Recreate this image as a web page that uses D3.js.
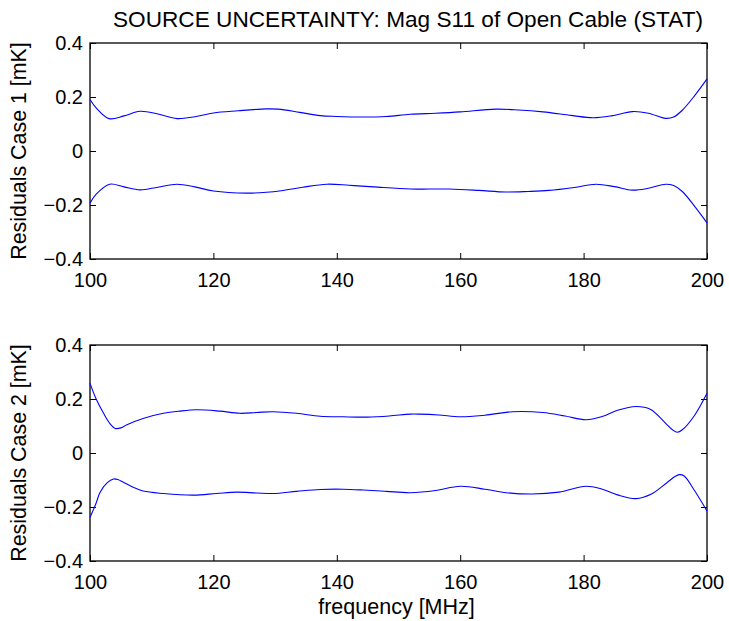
<!DOCTYPE html>
<html><head><meta charset="utf-8">
<script src="https://cdn.jsdelivr.net/npm/d3@7"></script>
<style>body{margin:0;background:#fff}svg{display:block}text{font-family:"Liberation Sans",Arial,Helvetica,sans-serif;fill:#000}</style>
</head><body>
<svg id="c" width="729" height="621"></svg>
<script>
const title = "SOURCE UNCERTAINTY: Mag S11 of Open Cable (STAT)";
const xLabel = "frequency [MHz]";
const yLabels = ["Residuals Case 1 [mK]", "Residuals Case 2 [mK]"];
const xTicks = [100, 120, 140, 160, 180, 200];
const yTicks = [-0.4, -0.2, 0, 0.2, 0.4];

// Case 1
const case1Freq  = [100, 101, 103.1, 105.5, 108.1, 111, 114.1, 117, 120, 124, 128.6, 130.5, 134, 137.3, 140, 144.3, 148, 151.9, 156, 160, 165.8, 169.5, 173.4, 178, 181.5, 184.5, 187.9, 190.5, 193.3, 194.6, 196, 198, 200];
const case1Upper = [0.191, 0.160, 0.120, 0.130, 0.147, 0.137, 0.120, 0.127, 0.141, 0.149, 0.156, 0.155, 0.143, 0.131, 0.128, 0.126, 0.128, 0.136, 0.140, 0.145, 0.155, 0.152, 0.145, 0.132, 0.123, 0.130, 0.146, 0.140, 0.121, 0.126, 0.151, 0.205, 0.267];
const case1FreqL = [100, 101, 103.2, 105.5, 108.1, 111, 114.1, 117, 120, 125.4, 128.6, 131, 134.5, 138.4, 142, 146, 151.9, 155, 158.3, 163, 167.4, 171, 174.4, 178.5, 182, 185, 187.9, 190.5, 193.3, 194.6, 196, 198, 200];
const case1Lower = [-0.193, -0.160, -0.123, -0.133, -0.144, -0.134, -0.123, -0.133, -0.148, -0.156, -0.153, -0.147, -0.134, -0.123, -0.127, -0.133, -0.141, -0.141, -0.141, -0.146, -0.152, -0.150, -0.146, -0.135, -0.123, -0.132, -0.145, -0.138, -0.123, -0.128, -0.150, -0.205, -0.266];

// Case 2
const case2Freq  = [100, 101, 102.2, 103.2, 104.1, 105, 105.9, 108.6, 111.9, 114.5, 117.3, 121, 124.3, 127, 129.7, 133.5, 137.3, 141, 144.9, 148.5, 151.9, 153.4, 156.5, 160, 164, 168.5, 173.4, 177, 180.4, 183, 185.5, 188.5, 190.8, 193.3, 194.4, 195.2, 196, 198, 200];
const case2Upper = [0.258, 0.200, 0.147, 0.110, 0.091, 0.093, 0.104, 0.128, 0.147, 0.155, 0.160, 0.155, 0.147, 0.150, 0.153, 0.147, 0.136, 0.134, 0.133, 0.137, 0.144, 0.144, 0.141, 0.134, 0.140, 0.153, 0.150, 0.137, 0.123, 0.135, 0.158, 0.172, 0.162, 0.110, 0.086, 0.077, 0.086, 0.140, 0.221];
const case2FreqL = [100, 101, 101.6, 102.8, 103.8, 104.5, 105.4, 107, 108.6, 111.9, 116.8, 120.5, 123.8, 127, 129.7, 133.5, 137.3, 141, 144.3, 148, 151.9, 156, 160, 164, 167.5, 171.7, 176, 180.4, 183, 185.5, 188.5, 191, 193.5, 194.8, 195.5, 196.3, 198, 200];
const case2Lower = [-0.239, -0.185, -0.147, -0.110, -0.096, -0.098, -0.108, -0.127, -0.141, -0.150, -0.156, -0.150, -0.145, -0.148, -0.150, -0.142, -0.135, -0.134, -0.137, -0.142, -0.147, -0.139, -0.123, -0.134, -0.147, -0.152, -0.145, -0.123, -0.134, -0.155, -0.169, -0.152, -0.110, -0.087, -0.080, -0.085, -0.140, -0.215];

const panels = [
  {top: 43, bottom: 259, label: yLabels[0], series: [[case1Freq, case1Upper], [case1FreqL, case1Lower]]},
  {top: 345, bottom: 561, label: yLabels[1], series: [[case2Freq, case2Upper], [case2FreqL, case2Lower]]}
];

const svg = d3.select("#c");
const left = 90, right = 707;
const x = d3.scaleLinear().domain([100, 200]).range([left, right]);

svg.append("text").attr("x", 113).attr("y", 27)
  .attr("font-size", 22.3).text(title)
  .attr("textLength", 590).attr("lengthAdjust", "spacingAndGlyphs");

panels.forEach(p => {
  const y = d3.scaleLinear().domain([-0.4, 0.4]).range([p.bottom, p.top]);
  const g = svg.append("g");
  const tl = 6;
  const xb = g.append("g").attr("transform", `translate(0,${p.bottom})`)
    .call(d3.axisBottom(x).tickValues(xTicks).tickSize(-tl).tickPadding(14).tickFormat(d3.format("d")));
  const xt = g.append("g").attr("transform", `translate(0,${p.top})`)
    .call(d3.axisTop(x).tickValues(xTicks).tickSize(-tl).tickFormat(""));
  const yl = g.append("g").attr("transform", `translate(${left},0)`)
    .call(d3.axisLeft(y).tickValues(yTicks).tickSize(-tl).tickPadding(7).tickFormat(d => d === 0 ? "0" : d3.format(".1f")(d).replace("-", "\u2212")));
  const yr = g.append("g").attr("transform", `translate(${right},0)`)
    .call(d3.axisRight(y).tickValues(yTicks).tickSize(-tl).tickFormat(""));
  [xb, xt, yl, yr].forEach(a => {
    a.select(".domain").remove();
    a.selectAll("line").attr("stroke", "#000").attr("stroke-width", 1);
    a.selectAll("text").attr("font-size", 20).attr("font-family", '"Liberation Sans",Arial,sans-serif').attr("fill", "#000");
  });
  g.append("rect").attr("x", left).attr("y", p.top).attr("width", right - left).attr("height", p.bottom - p.top)
    .attr("fill", "none").attr("stroke", "#000").attr("stroke-width", 1.3);

  const line = d3.line().x(d => x(d[0])).y(d => y(d[1])).curve(d3.curveCatmullRom.alpha(0.5));
  p.series.forEach(([fs, vs]) => {
    g.append("path").datum(fs.map((f, i) => [f, vs[i]])).attr("d", line)
      .attr("fill", "none").attr("stroke", "#0000ff").attr("stroke-width", 1.1);
  });

  svg.append("text").attr("transform", `translate(26,${(p.top + p.bottom) / 2}) rotate(-90)`)
    .attr("text-anchor", "middle").attr("font-size", 21.4).text(p.label);
});

svg.append("text").attr("x", 396.5).attr("y", 614)
  .attr("text-anchor", "middle").attr("font-size", 21.5).text(xLabel);
</script>
</body></html>
